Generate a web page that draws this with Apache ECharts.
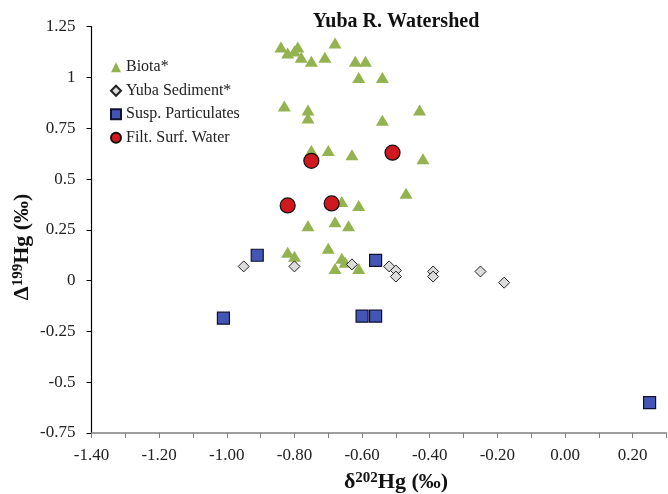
<!DOCTYPE html>
<html>
<head>
<meta charset="utf-8">
<script src="https://cdn.jsdelivr.net/npm/echarts@6/dist/echarts.min.js"></script>
<style>html,body{margin:0;padding:0;background:#fff}#c{width:668px;height:494px}</style>
</head>
<body>
<div id="c"></div>
<script>
// ---- data ----
const biotaX = [-0.84,-0.82,-0.80,-0.79,-0.78,-0.75,-0.71,-0.68,-0.62,-0.59,-0.61,-0.54,
  -0.83,-0.76,-0.76,-0.54,-0.43,-0.75,-0.70,-0.63,-0.42,-0.66,-0.61,-0.47,
  -0.68,-0.76,-0.64,-0.82,-0.80,-0.70,-0.66,-0.65,-0.68,-0.61];
const biotaY = [1.15,1.12,1.13,1.15,1.10,1.08,1.10,1.17,1.08,1.08,1.00,1.00,
  0.86,0.84,0.80,0.79,0.84,0.64,0.64,0.62,0.60,0.39,0.37,0.43,
  0.29,0.27,0.27,0.14,0.12,0.16,0.11,0.09,0.06,0.06];
const sedX = [-0.95,-0.80,-0.63,-0.52,-0.50,-0.50,-0.39,-0.39,-0.25,-0.18];
const sedY = [0.07,0.07,0.08,0.07,0.05,0.02,0.045,0.02,0.045,-0.01];
const suspX = [-0.91,-1.01,-0.60,-0.56,-0.56,0.25];
const suspY = [0.125,-0.185,-0.175,-0.175,0.10,-0.60];
const waterX = [-0.75,-0.51,-0.82,-0.69];
const waterY = [0.59,0.63,0.37,0.38];
const xTicks = {min:-1.4, max:0.3, step:0.1};
const yTicks = {min:-0.75, max:1.25, step:0.25};
const names = ['Biota*','Yuba Sediment*','Susp. Particulates','Filt. Surf. Water'];

const zip = (a,b) => a.map((v,i)=>[v,b[i]]);
const font = 'Liberation Serif';
const nameRich = {d:{fontFamily:font,fontSize:22,fontWeight:'bold',color:'#111'},
                  s:{fontFamily:font,fontSize:15,fontWeight:'bold',color:'#111',padding:[0,0,8,0]}};
const chart = echarts.init(document.getElementById('c'));
chart.setOption({
  animation:false,
  textStyle:{fontFamily:font},
  grid:{left:91.5, right:1.5, top:26.7, bottom:61, containLabel:false, outerBoundsMode:'none'},
  graphic:[{type:'text', x:396, y:22,
    style:{text:'Yuba R. Watershed', font:'bold 20px "Liberation Serif"', fill:'#111', textAlign:'center', textVerticalAlign:'middle'}}],
  legend:{orient:'vertical', left:110, top:59, padding:0, itemWidth:10, itemHeight:10, itemGap:7,
    textStyle:{fontFamily:font, fontSize:16, color:'#222', lineHeight:16.5},
    data:names.map(n=>({name:n}))},
  xAxis:{type:'value', min:xTicks.min, max:xTicks.max, interval:xTicks.step,
    axisLine:{onZero:false, lineStyle:{color:'#7f7f7f', width:1.5}},
    axisTick:{show:true, length:5, lineStyle:{color:'#7f7f7f'}},
    splitLine:{show:false},
    axisLabel:{fontFamily:font, fontSize:17, color:'#222', margin:14,
      formatter:v=> (Math.round(v*10)%2===0) ? v.toFixed(2) : ''},
    name:'{d|δ}{s|202}{d|Hg (‰)}', nameLocation:'middle', nameGap:38, nameMoveOverlap:false,
    nameTextStyle:{padding:[0,0,0,34], rich:nameRich}},
  yAxis:{type:'value', min:yTicks.min, max:yTicks.max, interval:yTicks.step,
    axisLine:{onZero:false, lineStyle:{color:'#000', width:1.2}},
    axisTick:{show:true, length:5, lineStyle:{color:'#000'}},
    splitLine:{show:false},
    axisLabel:{fontFamily:font, fontSize:17, color:'#222', margin:16},
    name:'{d|Δ}{s|199}{d|Hg (‰)}', nameLocation:'middle', nameGap:58, nameMoveOverlap:false,
    nameTextStyle:{padding:[0,34,0,0], rich:nameRich}},
  series:[
    {name:names[0], type:'scatter', symbol:'triangle', symbolSize:[13,11], data:zip(biotaX,biotaY),
      itemStyle:{color:'#93b350', opacity:1}},
    {name:names[1], type:'scatter', symbol:'diamond', symbolSize:11, data:zip(sedX,sedY),
      itemStyle:{color:'#dcdcdc', borderColor:'#222', borderWidth:1, opacity:1}},
    {name:names[2], type:'scatter', symbol:'rect', symbolSize:12, data:zip(suspX,suspY),
      itemStyle:{color:'#4456b5', borderColor:'#101030', borderWidth:1.2, opacity:1}},
    {name:names[3], type:'scatter', symbol:'circle', symbolSize:15, data:zip(waterX,waterY),
      itemStyle:{color:'#d0191e', borderColor:'#111', borderWidth:1.2, opacity:1}}
  ]
});
</script>
</body>
</html>
